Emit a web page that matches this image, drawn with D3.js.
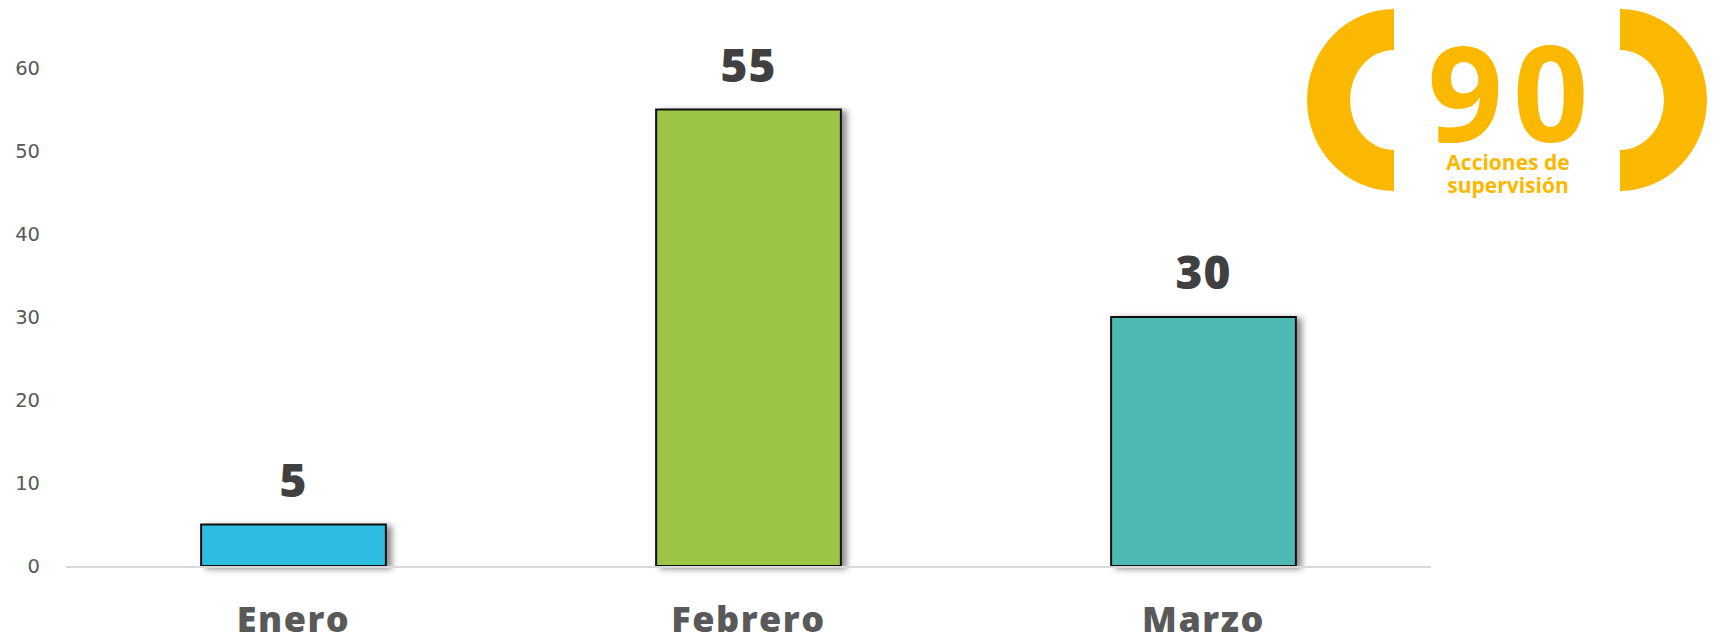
<!DOCTYPE html>
<html><head><meta charset="utf-8">
<script src="https://cdn.jsdelivr.net/npm/d3@7"></script>
<style>
html,body{margin:0;padding:0;background:#fff;}
svg{display:block;}
</style></head>
<body>
<svg id="chart" width="1715" height="642"></svg>
<script>
const categories = ["Enero", "Febrero", "Marzo"];
const values = [5, 55, 30];
const barColors = ["#2FBCE1", "#9DC544", "#4DB9B3"];
const yTicks = [0, 10, 20, 30, 40, 50, 60];
const logoNumber = "90";
const logoLines = ["Acciones de", "supervisión"];

const svg = d3.select("#chart");
const defs = svg.append("defs");
const f = defs.append("filter").attr("id","shadow").attr("x","-20%").attr("y","-20%").attr("width","150%").attr("height","150%");
f.append("feDropShadow").attr("dx",5).attr("dy",2).attr("stdDeviation",3).attr("flood-color","#000").attr("flood-opacity",0.45);

const x = d3.scaleBand().domain(categories).range([66, 1431]).paddingInner(0.594).paddingOuter(0.297);
const y = d3.scaleLinear().domain([0, 60]).range([566, 68]);

// y axis labels
const yAxis = d3.axisLeft(y).tickValues(yTicks).tickSize(0).tickPadding(0);
const yg = svg.append("g").attr("transform","translate(40,0)").call(yAxis);
yg.select(".domain").remove();
yg.selectAll("text").attr("fill","#595959").style("font-family","'DejaVu Sans', Verdana, sans-serif").style("font-size","19.5px");

// bars
svg.append("g").selectAll("rect").data(values).join("rect")
  .attr("x",(d,i)=>x(categories[i]))
  .attr("y",d=>y(d))
  .attr("width",x.bandwidth())
  .attr("height",d=>y(0)-y(d))
  .attr("fill",(d,i)=>barColors[i])
  .attr("stroke","#111")
  .attr("stroke-width",2)
  .attr("filter","url(#shadow)");

// baseline
svg.append("line").attr("x1",66).attr("x2",1431).attr("y1",y(0)+1).attr("y2",y(0)+1)
  .attr("stroke","#d9d9d9").attr("stroke-width",2);

// value labels
svg.append("g").selectAll("text").data(values).join("text")
  .attr("x",(d,i)=>x(categories[i])+x.bandwidth()/2)
  .attr("y",d=>y(d)-28)
  .attr("text-anchor","middle")
  .attr("fill","#404040")
  .style("font-family","'Open Sans', sans-serif").style("font-weight","800").style("font-size","46px")
  .style("letter-spacing","1px")
  .text(d=>d);

// category labels
svg.append("g").selectAll("text").data(categories).join("text")
  .attr("x",d=>x(d)+x.bandwidth()/2)
  .attr("y",632)
  .attr("text-anchor","middle")
  .attr("fill","#595959")
  .style("font-family","'Open Sans', sans-serif").style("font-weight","800").style("font-size","36px")
  .style("letter-spacing","1.5px")
  .text(d=>d);

// logo
const gold = "#FBB800";
const lg = svg.append("g");
const cy = 100;
function bracket(cx, dir){
  const ro = {rx:87, ry:91}, ri = {rx:44, ry:50};
  const sweepO = dir<0 ? 0 : 1, sweepI = dir<0 ? 1 : 0;
  return `M${cx},${cy-ro.ry} A${ro.rx},${ro.ry} 0 0 ${sweepO} ${cx},${cy+ro.ry} L${cx},${cy+ri.ry} A${ri.rx},${ri.ry} 0 0 ${sweepI} ${cx},${cy-ri.ry} Z`;
}
lg.append("path").attr("d",bracket(1394,-1)).attr("fill",gold);
lg.append("path").attr("d",bracket(1620,1)).attr("fill",gold);
lg.append("text").attr("x",1513).attr("y",142).attr("text-anchor","middle").attr("fill",gold)
  .style("font-family","'Open Sans', sans-serif").style("font-weight","700").style("font-size","132px")
  .style("letter-spacing","10px")
  .text(logoNumber);
lg.selectAll("text.sub").data(logoLines).join("text").attr("class","sub")
  .attr("x",1508).attr("y",(d,i)=>170+i*23).attr("text-anchor","middle").attr("fill",gold)
  .style("font-family","'Open Sans', sans-serif").style("font-weight","700").style("font-size","21px")
  .text(d=>d);
</script>
</body></html>
